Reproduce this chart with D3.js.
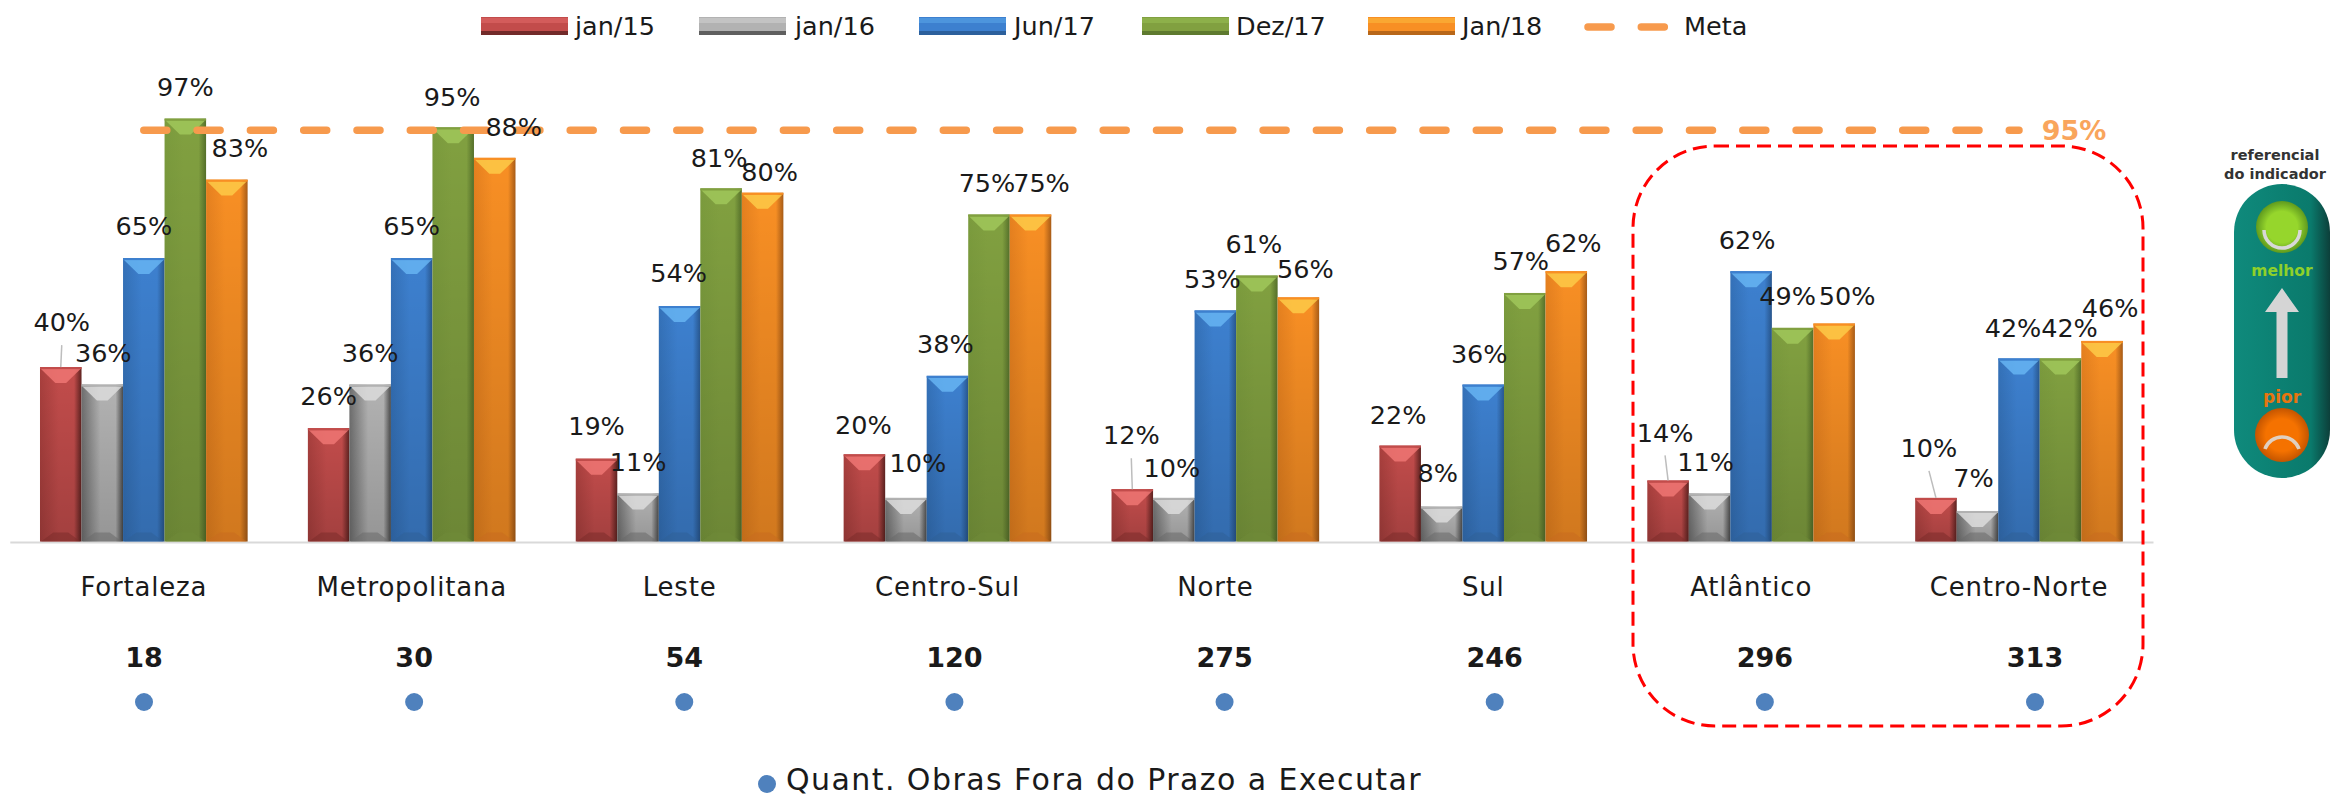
<!DOCTYPE html>
<html>
<head>
<meta charset="utf-8">
<script src="https://cdn.jsdelivr.net/npm/d3@7"></script>
<style>
  html, body { margin: 0; padding: 0; background: #fff; }
  svg { display: block; }
  text { font-family: "DejaVu Sans", sans-serif; fill: #1a1a1a; }
</style>
</head>
<body>
<div id="chart"></div>
<script>
const categories = ['Fortaleza', 'Metropolitana', 'Leste', 'Centro-Sul', 'Norte', 'Sul', 'Atlântico', 'Centro-Norte'];
const seriesNames = ['jan/15', 'jan/16', 'Jun/17', 'Dez/17', 'Jan/18'];
const jan15 = [40, 26, 19, 20, 12, 22, 14, 10];
const jan16 = [36, 36, 11, 10, 10, 8, 11, 7];
const jun17 = [65, 65, 54, 38, 53, 36, 62, 42];
const dez17 = [97, 95, 81, 75, 61, 57, 49, 42];
const jan18 = [83, 88, 80, 75, 56, 62, 50, 46];
const obras = [18, 30, 54, 120, 275, 246, 296, 313];
const meta = 95;

const seriesValues = [jan15, jan16, jun17, dez17, jan18];

// bar colours: [edge left, middle, edge right, top bevel, bottom bevel]
const palette = [
    ['#a83f3d', '#c24c4b', '#5e2220', '#ee7573', '#7c2b2a'],
    ['#6e6e6e', '#b2b2b2', '#4a4a4a', '#dcdcdc', '#6a6a6a'],
    ['#3471b8', '#3d80cf', '#28578f', '#66b4f2', '#2f6198'],
    ['#7b9b3d', '#81a040', '#55702a', '#a0c75b', '#6f8a38'],
    ['#e5801f', '#f88f24', '#a85c17', '#fdca48', '#c86c1f']
];

// hand placed data labels in the original, offset from the default spot above the bar
const labelNudges = [
    [[1, -13], [1, 0], [0, 0], [0, 0], [13, 0]],
    [[0, 0], [0, 0], [0, 0], [-1, 2], [19, 1]],
    [[0, -1], [0, 0], [-1, -1], [-2, 1], [7, 11]],
    [[-1, 3], [12, -3], [-2, 0], [-2, 0], [11, 0]],
    [[-1, -22], [-2, 2], [-3, 0], [-3, 0], [7, 3]],
    [[-2, 1], [-4, -2], [-4, 1], [-4, 0], [7, 4]],
    [[-3, -16], [-4, 0], [-4, 1], [-5, 0], [13, 4]],
    [[-7, -18], [-4, -1], [-6, 1], [9, 1], [8, -1]]
];

const legendX = [481, 699, 919, 1142, 1368];
const legendTextX = [575, 795, 1014, 1236, 1462];

const width = 2331;
const height = 797;
const baseY = 541.5;

const svg = d3.select('#chart').append('svg')
    .attr('width', width)
    .attr('height', height);

const defs = svg.append('defs');

palette.forEach((c, i) => {
    const g = defs.append('linearGradient').attr('id', 'bar' + i);
    g.append('stop').attr('offset', '0%').attr('stop-color', c[0]);
    g.append('stop').attr('offset', '45%').attr('stop-color', c[1]);
    g.append('stop').attr('offset', '82%').attr('stop-color', c[1]);
    g.append('stop').attr('offset', '100%').attr('stop-color', c[2]);
});

// bars get a little darker towards the bottom
const shade = defs.append('linearGradient').attr('id', 'shade')
    .attr('x1', 0).attr('y1', 0).attr('x2', 0).attr('y2', 1);
shade.append('stop').attr('offset', '0%').attr('stop-color', '#000').attr('stop-opacity', 0);
shade.append('stop').attr('offset', '100%').attr('stop-color', '#000').attr('stop-opacity', 0.16);

const pillGrad = defs.append('linearGradient').attr('id', 'pill');
pillGrad.append('stop').attr('offset', '0%').attr('stop-color', '#0f8a7c');
pillGrad.append('stop').attr('offset', '80%').attr('stop-color', '#0a7a6c');
pillGrad.append('stop').attr('offset', '100%').attr('stop-color', '#0c3f3a');

const greenBall = defs.append('radialGradient').attr('id', 'greenBall');
greenBall.append('stop').attr('offset', '60%').attr('stop-color', '#96d62c');
greenBall.append('stop').attr('offset', '100%').attr('stop-color', '#5f9a1e');

const orangeBall = defs.append('radialGradient').attr('id', 'orangeBall');
orangeBall.append('stop').attr('offset', '60%').attr('stop-color', '#f57200');
orangeBall.append('stop').attr('offset', '100%').attr('stop-color', '#c45500');

const x0 = d3.scaleBand()
    .domain(categories)
    .range([9.8, 2153])
    .paddingInner(0.225)
    .paddingOuter(0.1127);

const x1 = d3.scaleBand()
    .domain(d3.range(seriesNames.length))
    .range([0, x0.bandwidth()]);

const y = d3.scaleLinear()
    .domain([0, 100])
    .range([baseY, baseY - 436]);

const xPoint = d3.scalePoint()
    .domain(categories)
    .range([144, 2035]);

// Axis
const axis = svg.append('g')
    .attr('transform', `translate(0,${baseY + 0.5})`)
    .call(d3.axisBottom(x0).tickSize(0).tickPadding(36));
axis.select('.domain').attr('stroke', '#d9d9d9').attr('stroke-width', 2);
axis.selectAll('text')
    .attr('font-family', '"DejaVu Sans", sans-serif')
    .attr('font-size', 26)
    .attr('letter-spacing', 0.8)
    .attr('fill', '#1a1a1a');

// Bars
const flat = [];
categories.forEach((cat, k) => {
    seriesValues.forEach((vals, i) => {
        flat.push({ cat, k, i, value: vals[k] });
    });
});

const barX = d => x0(d.cat) + x1(d.i);
const bw = x1.bandwidth();

const bars = svg.append('g').selectAll('g')
    .data(flat)
    .enter()
    .append('g');

bars.append('rect')
    .attr('x', barX)
    .attr('y', d => y(d.value))
    .attr('width', bw)
    .attr('height', d => y(0) - y(d.value))
    .attr('fill', d => `url(#bar${d.i})`);

bars.append('rect')
    .attr('x', barX)
    .attr('y', d => y(d.value))
    .attr('width', bw)
    .attr('height', d => y(0) - y(d.value))
    .attr('fill', 'url(#shade)');

// top bevel
bars.append('path')
    .attr('d', d => {
        const l = barX(d), t = y(d.value);
        return `M${l + 1},${t + 2}L${l + bw - 1},${t + 2}L${l + bw * 0.63},${t + 16}L${l + bw * 0.37},${t + 16}Z`;
    })
    .attr('fill', d => palette[d.i][3])
    .attr('opacity', 0.85);

// thin lighter edge on top of the bar
bars.append('rect')
    .attr('x', barX)
    .attr('y', d => y(d.value))
    .attr('width', bw)
    .attr('height', 2)
    .attr('fill', d => palette[d.i][1]);

// bottom bevel
bars.append('path')
    .attr('d', d => {
        const l = barX(d), b = y(0);
        return `M${l + 1},${b}L${l + bw - 1},${b}L${l + bw * 0.68},${b - 9}L${l + bw * 0.32},${b - 9}Z`;
    })
    .attr('fill', d => palette[d.i][4])
    .attr('opacity', 0.55);

// Meta line
svg.append('line')
    .attr('x1', x0(categories[0]) + x0.bandwidth() / 2)
    .attr('x2', x0(categories[7]) + x0.bandwidth() / 2)
    .attr('y1', y(meta) + 3)
    .attr('y2', y(meta) + 3)
    .attr('stroke', '#f79a4d')
    .attr('stroke-width', 7.5)
    .attr('stroke-linecap', 'round')
    .attr('stroke-dasharray', '23 30.3');

svg.append('text')
    .attr('x', 2074)
    .attr('y', y(meta) + 3)
    .attr('dy', '.35em')
    .attr('text-anchor', 'middle')
    .attr('font-size', 27)
    .attr('font-weight', 700)
    .style('fill', '#f9a55c')
    .text(meta + '%');

// Leader lines, only where the label was dragged far from its bar
const labelX = d => barX(d) + bw / 2 + labelNudges[d.k][d.i][0];
const labelY = d => y(d.value) - 32 + labelNudges[d.k][d.i][1];

svg.append('g').selectAll('line')
    .data(flat.filter(d => labelNudges[d.k][d.i][1] < -10))
    .enter()
    .append('line')
    .attr('x1', labelX)
    .attr('x2', d => barX(d) + bw / 2)
    .attr('y1', d => labelY(d) + 23)
    .attr('y2', d => y(d.value))
    .attr('stroke', '#bdbdbd')
    .attr('stroke-width', 1.5);

// Data labels
svg.append('g').selectAll('text')
    .data(flat)
    .enter()
    .append('text')
    .attr('x', labelX)
    .attr('y', labelY)
    .attr('dy', '.36em')
    .attr('text-anchor', 'middle')
    .attr('font-size', 25.5)
    .text(d => d.value + '%');

// Quant. row
svg.append('g').selectAll('text')
    .data(obras)
    .enter()
    .append('text')
    .attr('x', (d, i) => xPoint(categories[i]))
    .attr('y', 657)
    .attr('dy', '.36em')
    .attr('text-anchor', 'middle')
    .attr('font-size', 27)
    .attr('font-weight', 700)
    .text(d => d);

svg.append('g').selectAll('circle')
    .data(obras)
    .enter()
    .append('circle')
    .attr('cx', (d, i) => xPoint(categories[i]))
    .attr('cy', 702)
    .attr('r', 9)
    .attr('fill', '#4f81bd');

// Top legend
const legend = svg.append('g');

seriesNames.forEach((name, i) => {
    legend.append('rect')
        .attr('x', legendX[i])
        .attr('y', 17)
        .attr('width', 87)
        .attr('height', 18)
        .attr('fill', palette[i][1]);
    legend.append('rect')
        .attr('x', legendX[i])
        .attr('y', 18)
        .attr('width', 87)
        .attr('height', 5)
        .attr('fill', palette[i][3])
        .attr('opacity', 0.4);
    legend.append('rect')
        .attr('x', legendX[i])
        .attr('y', 31)
        .attr('width', 87)
        .attr('height', 4)
        .attr('fill', palette[i][2])
        .attr('opacity', 0.8);
    legend.append('text')
        .attr('x', legendTextX[i])
        .attr('y', 26)
        .attr('dy', '.36em')
        .attr('font-size', 25.5)
        .text(name);
});

legend.append('line')
    .attr('x1', 1588)
    .attr('x2', 1667)
    .attr('y1', 27)
    .attr('y2', 27)
    .attr('stroke', '#f79a4d')
    .attr('stroke-width', 7.5)
    .attr('stroke-linecap', 'round')
    .attr('stroke-dasharray', '23 30.3');

legend.append('text')
    .attr('x', 1684)
    .attr('y', 26)
    .attr('dy', '.36em')
    .attr('font-size', 25.5)
    .text('Meta');

// Bottom legend
svg.append('circle')
    .attr('cx', 767)
    .attr('cy', 784)
    .attr('r', 9)
    .attr('fill', '#4f81bd');

svg.append('text')
    .attr('x', 786)
    .attr('y', 779)
    .attr('dy', '.36em')
    .attr('font-size', 30)
    .attr('letter-spacing', 1.43)
    .text('Quant. Obras Fora do Prazo a Executar');

// Red highlight around the last two regions
svg.append('rect')
    .attr('x', 1633)
    .attr('y', 146)
    .attr('width', 510)
    .attr('height', 580)
    .attr('rx', 82)
    .attr('ry', 82)
    .attr('fill', 'none')
    .attr('stroke', '#ff0000')
    .attr('stroke-width', 3)
    .attr('stroke-dasharray', '14 7');

// "referencial do indicador" badge
const badge = svg.append('g');

badge.append('text')
    .attr('x', 2275).attr('y', 155).attr('dy', '.36em')
    .attr('text-anchor', 'middle')
    .attr('font-size', 14.5).attr('font-weight', 700)
    .style('fill', '#333')
    .text('referencial');

badge.append('text')
    .attr('x', 2275).attr('y', 174).attr('dy', '.36em')
    .attr('text-anchor', 'middle')
    .attr('font-size', 14.5).attr('font-weight', 700)
    .style('fill', '#333')
    .text('do indicador');

badge.append('rect')
    .attr('x', 2234).attr('y', 184)
    .attr('width', 96).attr('height', 294)
    .attr('rx', 48).attr('ry', 48)
    .attr('fill', 'url(#pill)');

badge.append('circle')
    .attr('cx', 2282).attr('cy', 227).attr('r', 26)
    .attr('fill', 'url(#greenBall)');

badge.append('path')
    .attr('d', 'M2264,230 A18,18 0 0 0 2300,230')
    .attr('fill', 'none')
    .attr('stroke', '#d8d8d8')
    .attr('stroke-width', 3.5);

badge.append('text')
    .attr('x', 2282).attr('y', 270).attr('dy', '.36em')
    .attr('text-anchor', 'middle')
    .attr('font-size', 15.5).attr('font-weight', 700)
    .style('fill', '#8fd02a')
    .text('melhor');

badge.append('path')
    .attr('d', 'M2282,288 L2299,312 L2287.5,312 L2287.5,378 L2276.5,378 L2276.5,312 L2265,312 Z')
    .attr('fill', '#d5d5d5');

badge.append('text')
    .attr('x', 2282).attr('y', 397).attr('dy', '.36em')
    .attr('text-anchor', 'middle')
    .attr('font-size', 17).attr('font-weight', 700)
    .style('fill', '#e8750f')
    .text('pior');

badge.append('circle')
    .attr('cx', 2282).attr('cy', 435).attr('r', 27)
    .attr('fill', 'url(#orangeBall)');

badge.append('path')
    .attr('d', 'M2265,449 A18,18 0 0 1 2299,449')
    .attr('fill', 'none')
    .attr('stroke', '#e0d0c0')
    .attr('stroke-width', 3.5);
</script>
</body>
</html>
